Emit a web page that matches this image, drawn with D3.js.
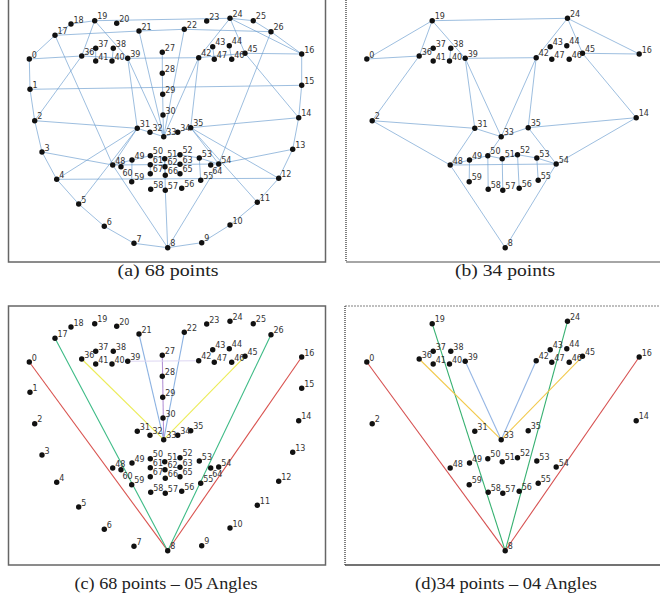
<!DOCTYPE html>
<html><head><meta charset="utf-8">
<script src="https://cdn.jsdelivr.net/npm/d3@7"></script>
<style>body{margin:0;background:#fff}svg{display:block}</style>
</head><body>
<svg id="c" width="660" height="597"></svg>
<script>
// Landmark coordinates (face space)
const ptX = [29.3,30,34.7,42,56.7,78.7,104.3,134,167.7,201.7,230,257.3,278.7,292.7,298.7,301.7,301.7,
  55,71,94.7,116.7,139,184.3,206.7,230,253.3,271,
  162.3,162.3,162.7,163,137.3,150,163.7,177.7,190.7,
  81.7,95.7,113.3,127.7,112,95.7,198.7,212.7,229.3,245,231.7,214.3,
  112.7,132,150.3,164.7,180,199.3,218.7,200.7,181.7,165.3,150.7,131.7,
  121,150.3,165,180,210.7,180,165.3,150.3];
const ptY = [59,89.3,120.7,152,179.3,204,226.3,243.3,247.7,242.7,225,202.3,178.3,149.3,117.7,85.3,54,
  35.3,24,20.7,23.3,31,29.3,21,18.3,20.7,31.7,
  52.3,73.3,94.3,115,128.3,132.3,136.7,132.3,127.7,
  56,48.3,48.3,58.3,61,61,57.7,46.7,45.7,53.3,59.3,59.3,
  165,160,155.7,158.7,154.7,158,164,180.3,188.3,190.3,189.3,181.7,
  166.7,164.7,166.7,164.3,165,173.7,175.3,173.7];
const all68 = d3.range(68);
const sub34 = [0,2,8,14,16,19,24,31,33,35,36,37,38,39,40,41,42,43,44,45,46,47,48,49,50,51,52,53,54,55,56,57,58,59];

const edgesA = [[0,1],[1,2],[2,3],[3,4],[4,5],[5,6],[6,7],[7,8],[8,9],[9,10],[10,11],[11,12],[12,13],[13,14],[14,15],[15,16],
  [0,17],[17,18],[18,19],[19,24],[24,25],[25,26],[26,16],[17,21],[21,22],[22,26],[24,16],
  [0,36],[36,39],[39,42],[42,45],[45,16],[1,15],[2,36],[36,19],[19,39],[24,42],[24,45],[45,14],
  [36,37],[37,41],[38,40],[43,47],[44,46],
  [27,28],[28,29],[29,30],[30,33],[21,33],[22,33],[39,31],[39,33],[42,33],[42,35],
  [31,32],[32,33],[33,34],[34,35],[2,31],[35,14],
  [3,48],[13,54],[4,12],[48,54],[49,59],[53,55],[61,67],[51,57],[57,8],[48,8],[54,8],[17,48],[26,54],
  [4,31],[12,35],[5,31],[11,35],[31,48],[35,54],[48,49],[49,50],[50,51],[51,52],[52,53],[53,54],[51,62],[62,66]];
const edgesB = [[0,19],[0,36],[19,36],[19,39],[19,24],[24,42],[24,45],[24,16],[45,16],[39,42],[36,2],[45,14],
  [2,31],[39,31],[39,33],[42,33],[42,35],[31,33],[33,35],[35,14],[2,48],[14,54],[31,48],[35,54],[33,50],
  [48,54],[48,8],[54,8],[49,59],[50,58],[51,57],[52,56],[53,55],[36,37],[38,40],
  [48,49],[49,50],[50,51],[51,52],[52,53],[53,54]];
const anglesC = [[0,8],[16,8],[17,8],[26,8],[36,33],[45,33],[21,33],[22,33],[27,33],[39,42]];
const anglesD = [[0,8],[16,8],[19,8],[24,8],[36,33],[45,33],[39,33],[42,33]];
const captions = ["(a) 68 points","(b) 34 points","(c) 68 points – 05 Angles","(d)34 points – 04 Angles"];

const colorsC = ["#d9534f","#d9534f","#3dbb86","#3dbb86","#ecec58","#ecec58","#8db3e2","#8db3e2","#b593d6","#ddd6f2"];
const colorsD = ["#d65050","#d65050","#35b070","#35b070","#f2c94c","#f2c94c","#95b6e4","#95b6e4"];

const svg = d3.select("#c");
const panels = [
  {ox:0, oy:0, pts:all68, edges:edgesA, cols:null, cap:captions[0], cx:168, cy:276, tw:101},
  {ox:337.5, oy:0, pts:sub34, edges:edgesB, cols:null, cap:captions[1], cx:505, cy:276, tw:100},
  {ox:0, oy:303, pts:all68, edges:anglesC, cols:colorsC, cap:captions[2], cx:166, cy:589, tw:183},
  {ox:337.5, oy:303, pts:sub34, edges:anglesD, cols:colorsD, cap:captions[3], cx:506, cy:589, tw:182}
];
// label nudges for crowded mouth corners
const nudgeY = d => (d===60 || d===64) ? 9 : -1.5;
const nudgeX = d => (d===60 || d===64) ? 1.5 : 2.5;

// frames
const fr = svg.append("g");
fr.append("rect").attr("x",8.5).attr("y",-3).attr("width",317).attr("height",265).attr("fill","none").attr("stroke","#666").attr("stroke-width",1.5);
fr.append("line").attr("x1",346).attr("x2",346).attr("y1",0).attr("y2",262).attr("stroke","#555").attr("stroke-dasharray","1,1").attr("stroke-width",1.5);
fr.append("line").attr("x1",346).attr("x2",662).attr("y1",262).attr("y2",262).attr("stroke","#888").attr("stroke-width",1.5);
fr.append("rect").attr("x",8.5).attr("y",306).attr("width",317).attr("height",259).attr("fill","none").attr("stroke","#666").attr("stroke-width",1.5);
fr.append("line").attr("x1",345).attr("x2",662).attr("y1",306).attr("y2",306).attr("stroke","#aaa").attr("stroke-dasharray","2,1").attr("stroke-width",1.5);
fr.append("line").attr("x1",345).attr("x2",345).attr("y1",306).attr("y2",565).attr("stroke","#555").attr("stroke-dasharray","1,1").attr("stroke-width",1.5);
fr.append("line").attr("x1",345).attr("x2",662).attr("y1",565).attr("y2",565).attr("stroke","#444").attr("stroke-width",1.5);

panels.forEach(p => {
  const sx = d3.scaleLinear().domain([0,330]).range([p.ox, p.ox+330]);
  const sy = d3.scaleLinear().domain([0,300]).range([p.oy, p.oy+300]);
  const g = svg.append("g");
  g.selectAll("line.e").data(p.edges).join("line").attr("class","e")
    .attr("x1",d=>sx(ptX[d[0]])).attr("y1",d=>sy(ptY[d[0]]))
    .attr("x2",d=>sx(ptX[d[1]])).attr("y2",d=>sy(ptY[d[1]]))
    .attr("stroke",(d,i)=>p.cols ? p.cols[i] : "#6e9fcf")
    .attr("stroke-width",p.cols?1.1:0.8).attr("stroke-opacity",p.cols?1:0.85);
  g.selectAll("circle").data(p.pts).join("circle")
    .attr("cx",d=>sx(ptX[d])).attr("cy",d=>sy(ptY[d])).attr("r",2.7).attr("fill","#111");
  g.selectAll("text").data(p.pts).join("text")
    .attr("x",d=>sx(ptX[d])+nudgeX(d)).attr("y",d=>sy(ptY[d])+nudgeY(d))
    .attr("font-family","DejaVu Sans").attr("font-size",8).attr("fill","#333")
    .text(d=>String(d));
  svg.append("text").attr("x",p.cx).attr("y",p.cy).attr("text-anchor","middle")
    .attr("font-family","'Liberation Serif','Times New Roman',serif").attr("font-size",17)
    .attr("textLength",p.tw).attr("lengthAdjust","spacingAndGlyphs")
    .attr("fill","#222").text(p.cap);
});
</script>
</body></html>
